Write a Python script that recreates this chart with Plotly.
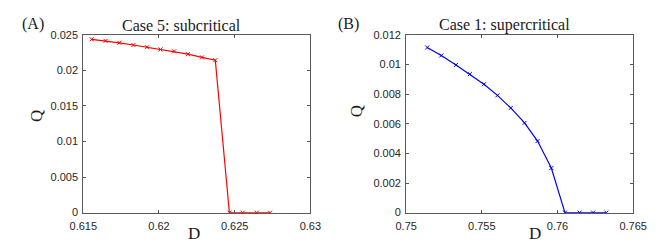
import plotly.graph_objects as go

# Case 5: subcritical
D_sub = [0.61555, 0.61647, 0.61738, 0.61831, 0.61921, 0.62010, 0.62100, 0.62191,
         0.62284, 0.62372, 0.62465, 0.62553, 0.62646, 0.62734]
Q_sub = [0.02438, 0.02416, 0.02389, 0.02358, 0.02327, 0.02295, 0.02269, 0.02229,
         0.02184, 0.02144, 0.0, 0.0, 0.0, 0.0]

# Case 1: supercritical
D_sup = [0.75139, 0.75232, 0.75329, 0.75421, 0.75514, 0.75603, 0.75691, 0.75782,
         0.75868, 0.75959, 0.76049, 0.76146, 0.76235, 0.76323]
Q_sup = [0.01115, 0.01061, 0.00997, 0.00935, 0.00867, 0.00792, 0.00707, 0.00606,
         0.00483, 0.00301, 0.0, 0.0, 0.0, 0.0]

x1_ticks = [0.615, 0.62, 0.625, 0.63]
y1_ticks = [0, 0.005, 0.01, 0.015, 0.02, 0.025]
x2_ticks = [0.75, 0.755, 0.76, 0.765]
y2_ticks = [0, 0.002, 0.004, 0.006, 0.008, 0.01, 0.012]

W, H = 667, 242

fig = go.Figure()
fig.add_trace(go.Scatter(x=D_sub, y=Q_sub, mode="lines+markers", xaxis="x", yaxis="y",
                         line=dict(color="#ff0000", width=1.2),
                         marker=dict(symbol="x-thin", size=4, line=dict(color="#ff0000", width=1)),
                         showlegend=False))
fig.add_trace(go.Scatter(x=D_sup, y=Q_sup, mode="lines+markers", xaxis="x2", yaxis="y2",
                         line=dict(color="#0000ff", width=1.2),
                         marker=dict(symbol="x-thin", size=4, line=dict(color="#0000ff", width=1)),
                         showlegend=False))

axcommon = dict(showline=True, mirror="ticks", linecolor="#5a5a5a", linewidth=1,
                ticks="inside", ticklen=3, tickcolor="#5a5a5a", showgrid=False,
                zeroline=False, tickfont=dict(family="Liberation Sans", size=11, color="#262626"))

yb, yt = (H - 209) / H, (H - 22) / H
fig.update_layout(
    width=W, height=H, margin=dict(l=0, r=0, t=0, b=0),
    paper_bgcolor="white", plot_bgcolor="white",
    xaxis=dict(domain=[64 / W, 301 / W], range=[0.615, 0.63], tickvals=x1_ticks,
               anchor="y", ticklabelstandoff=3, **axcommon),
    yaxis=dict(domain=[yb, yt], range=[0, 0.025], tickvals=y1_ticks, anchor="x",
               ticklabelstandoff=2, **axcommon),
    xaxis2=dict(domain=[401 / W, 638 / W], range=[0.75, 0.765], tickvals=x2_ticks,
                anchor="y2", ticklabelstandoff=3, **axcommon),
    yaxis2=dict(domain=[yb, yt], range=[0, 0.012], tickvals=y2_ticks, anchor="x2",
                ticklabelstandoff=2, **axcommon),
)

serif = dict(family="Liberation Serif", color="#1a1a1a")

def ann(text, px, py, size, angle=0):
    fig.add_annotation(text=text, x=px / W, y=1 - py / H, xref="paper", yref="paper",
                       showarrow=False, xanchor="center", yanchor="middle",
                       font=dict(size=size, **serif), textangle=angle)

ann("(A)", 11, 11, 16)
ann("Case 5: subcritical", 167, 12, 16)
ann("D", 180, 231, 17)
ann("Q", 15, 107, 17, -90)
ann("(B)", 341, 11, 16)
ann("Case 1: supercritical", 504, 12, 16)
ann("D", 535, 231, 17)
ann("Q", 350, 102, 17, -90)

fig.write_html("out.html")
